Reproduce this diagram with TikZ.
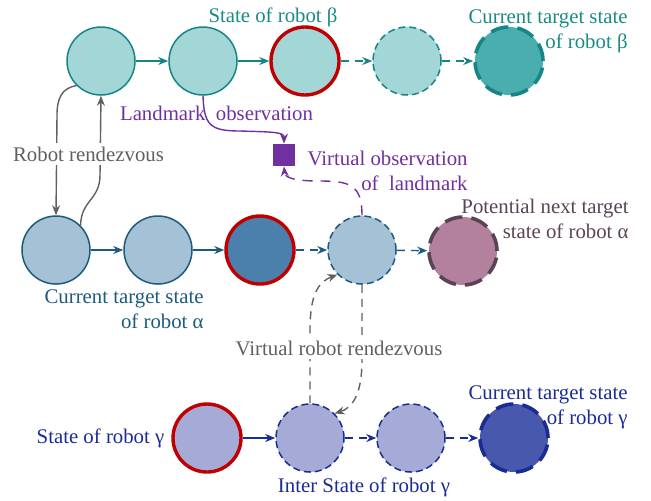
\documentclass[tikz,border=0pt]{standalone}
\usepackage{fontspec}
\setmainfont{Liberation Serif}
\usetikzlibrary{arrows.meta}

% palette
\definecolor{betafill}{HTML}{A3D6D6}
\definecolor{betaline}{HTML}{178585}
\definecolor{betadark}{HTML}{4AAEAE}
\definecolor{betatext}{HTML}{1A8A84}
\definecolor{alphafill}{HTML}{A5C1D6}
\definecolor{alphaline}{HTML}{1C5A7E}
\definecolor{alphadark}{HTML}{4A80AB}
\definecolor{nextfill}{HTML}{B3819D}
\definecolor{nextline}{HTML}{5B4356}
\definecolor{gammafill}{HTML}{A5ABD6}
\definecolor{gammaline}{HTML}{1A2C94}
\definecolor{gammadark}{HTML}{4858AD}
\definecolor{curred}{HTML}{C00000}
\definecolor{obspurple}{HTML}{7030A0}
\definecolor{rdvgray}{HTML}{606060}

\tikzset{
  circ/.style={circle, minimum size=34pt, inner sep=0pt, line width=0.75pt},
  betast/.style={circ, draw=betaline, fill=betafill},
  alphast/.style={circ, draw=alphaline, fill=alphafill},
  gammast/.style={circ, draw=gammaline, fill=gammafill},
  current/.style={draw=curred, line width=1.7pt},
  virtual/.style={dash pattern=on 3.5pt off 2pt},
  targetst/.style={line width=1.8pt, dash pattern=on 9pt off 4.5pt},
  link/.style={line width=0.7pt, -{Stealth[length=5pt,width=4pt]}},
  vlink/.style={link, dash pattern=on 4pt off 3pt},
  lbl/.style={font=\fontsize{10.4}{12.5}\selectfont, inner sep=0pt},
}

\begin{document}
\begin{tikzpicture}[x=0.5pt, y=-0.5pt]
\useasboundingbox (0,0) rectangle (651,500);

% robot beta
\node[betast] (b1) at (101,61) {};
\node[betast] (b2) at (203,61) {};
\node[betast, current] (b3) at (305,61) {};
\node[betast, virtual] (b4) at (407,61) {};
\node[betast, targetst, fill=betadark] (b5) at (509,61) {};

% robot alpha
\node[alphast] (a1) at (56,250) {};
\node[alphast] (a2) at (158,250) {};
\node[alphast, current, fill=alphadark] (a3) at (260,250) {};
\node[alphast, virtual] (a4) at (362,250) {};
\node[circ, draw=nextline, fill=nextfill, targetst] (a5) at (463,251) {};

% robot gamma
\node[gammast, current] (g1) at (207,438) {};
\node[gammast, virtual] (g2) at (310,438) {};
\node[gammast, virtual] (g3) at (411,438) {};
\node[gammast, targetst, fill=gammadark] (g4) at (514,438) {};

% landmark
\node[fill=obspurple, minimum size=11pt, inner sep=0pt] (lm) at (284,155) {};

% chains of states
\draw[link, betaline] (b1) -- (b2);
\draw[link, betaline] (b2) -- (b3);
\draw[vlink, betaline] (b3) -- (b4);
\draw[vlink, betaline] (b4) -- (b5);
\draw[link, alphaline] (a1) -- (a2);
\draw[link, alphaline] (a2) -- (a3);
\draw[vlink, alphaline] (a3) -- (a4);
\draw[vlink, alphaline] (a4) -- (a5);
\draw[link, gammaline] (g1) -- (g2);
\draw[vlink, gammaline] (g2) -- (g3);
\draw[vlink, gammaline] (g3) -- (g4);

% rendezvous between beta and alpha
\draw[link, rdvgray] (b1.south west) .. controls (62,88) and (57,98) .. (57,115) -- (a1.north);
\draw[link, rdvgray] (a1.north east) .. controls (81,200) and (100,200) .. (100,175) -- (b1.south);

% virtual rendezvous between alpha and gamma
\draw[vlink, rdvgray] (g2.north) -- (310,330) .. controls (310,295) and (318,282) .. (a4.south west);
\draw[vlink, rdvgray] (a4.south) -- (362,360) .. controls (362,395) and (352,408) .. (g2.north east);

% landmark observations
\draw[link, obspurple] (b2.south) .. controls (204,125) and (210,131) .. (240,131) .. controls (274,132) and (284,132) .. (lm.north);
\draw[link, obspurple, dash pattern=on 5pt off 4pt] (a4.north) .. controls (362,185) and (350,181) .. (320,181) .. controls (295,181) and (285,178) .. (lm.south);

% labels
\node[lbl, text=betatext, anchor=base] (tb3) at (273,22) {State of robot β};
\node[lbl, text=betatext, align=right, anchor=north east] (tb5) at (628,9) {Current target state\\of robot β};
\node[lbl, text=obspurple, anchor=base] (tobs) at (216.5,120) {Landmark\ \ observation};
\node[lbl, text=obspurple, align=right, anchor=north east] (tvobs) at (468,151) {Virtual observation\\of~ landmark};
\node[lbl, text=rdvgray, fill=white, inner ysep=2pt, anchor=base] (trdv) at (88.5,161) {Robot rendezvous};
\node[lbl, text=alphaline, align=right, anchor=north east] (ta2) at (204,289) {Current target state\\of robot α};
\node[lbl, text=nextline, align=right, anchor=north east] (ta5) at (629,199) {Potential next target\\state of robot α};
\node[lbl, text=rdvgray, fill=white, inner ysep=2pt, anchor=base] (tvrdv) at (339,355) {Virtual robot rendezvous};
\node[lbl, text=gammaline, anchor=base] (tg1) at (100.5,443) {State of robot γ};
\node[lbl, text=gammaline, anchor=base] (tg2) at (364,492) {Inter State of robot γ};
\node[lbl, text=gammaline, align=right, anchor=north east] (tg4) at (628,385) {Current target state\\of robot γ};
\end{tikzpicture}
\end{document}
